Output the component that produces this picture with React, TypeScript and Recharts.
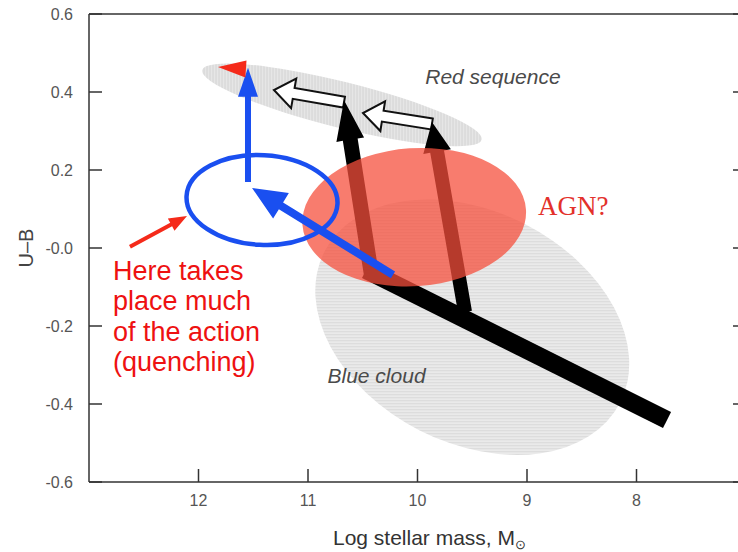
import React from 'react';
import { ComposedChart, XAxis, YAxis, ReferenceArea, ReferenceLine, ReferenceDot, Label } from 'recharts';

// ---------- axes ----------
const xDomain = [7, 13];
const yDomain = [-0.6, 0.6];
const xTicks = [8, 9, 10, 11, 12];
const yTicks = [-0.6, -0.4, -0.2, 0, 0.2, 0.4, 0.6];

// ---------- regions: [centre mass, centre U-B, half-extent mass, half-extent U-B] ----------
const blueCloud = [9.5, -0.203, 1.516, 0.297];
const redSequence = [10.69, 0.367, 1.315, 0.059];
const agnZone = [10.03, 0.079, 1.023, 0.177];
const quenchZone = [11.42, 0.123, 0.69, 0.115];

// ---------- tracks: [from mass, from U-B, to mass, to U-B] ----------
const blackTrack = [10.47, -0.056, 7.721, -0.441];
const blackRise1 = [10.416, -0.077, 10.671, 0.379];
const blackRise2 = [9.566, -0.164, 9.868, 0.323];
const hollowDrift1 = [10.671, 0.374, 11.311, 0.405];
const hollowDrift2 = [9.868, 0.318, 10.498, 0.346];
const blueRise = [11.548, 0.169, 11.548, 0.462];
const blueInflow = [10.224, -0.069, 11.511, 0.154];
const redTip = [11.557, 0.459, 11.822, 0.464];
const redPointer = [12.626, 0.003, 12.105, 0.082];

// ---------- annotations: [mass, U-B] ----------
const redSeqLabelPos = [9.311, 0.42];
const blueCloudLabelPos = [10.374, -0.346];
const agnLabelPos = [8.9, 0.085];
const quenchLabelPos = [12.781, -0.082];
const quenchLines = ['Here takes', 'place much', 'of the action', '(quenching)'];

const SANS = '"Liberation Sans", Arial, Helvetica, sans-serif';
const AXIS = '#333';

type EllStyle = { rot: number; fill: string; opacity?: number; stroke?: string; strokeWidth?: number; hatch?: 'h' | 'v'; line?: string; id?: string };
const ellipseShape = (s: EllStyle) => (p: any) => {
  const w = Math.abs(p.width), h = Math.abs(p.height);
  const x0 = Math.min(p.x, p.x + p.width), y0 = Math.min(p.y, p.y + p.height);
  const cx = x0 + w / 2, cy = y0 + h / 2;
  const pid = s.id ? `pat-${s.id}` : undefined;
  return (
    <g>
      {pid && (
        <defs>
          <pattern id={pid} patternUnits="userSpaceOnUse" width={s.hatch === 'v' ? 3 : 6} height={s.hatch === 'v' ? 6 : 3} patternTransform={`rotate(${-s.rot})`}>
            <rect x={0} y={0} width={6} height={6} fill={s.fill} />
            {s.hatch === 'v' ? <rect x={0} y={0} width={1} height={6} fill={s.line} /> : <rect x={0} y={0} width={6} height={1} fill={s.line} />}
          </pattern>
        </defs>
      )}
      <ellipse
        cx={cx}
        cy={cy}
        rx={w / 2}
        ry={h / 2}
        transform={`rotate(${s.rot} ${cx} ${cy})`}
        fill={s.stroke ? 'none' : pid ? `url(#${pid})` : s.fill}
        fillOpacity={s.opacity ?? 1}
        stroke={s.stroke || 'none'}
        strokeWidth={s.strokeWidth || 0}
      />
    </g>
  );
};

type ArrStyle = { shaft: number; headL: number; headW: number; fill: string; stroke?: string; strokeWidth?: number };
const arrowShape = (s: ArrStyle) => (p: any) => {
  const { x1, y1, x2, y2 } = p;
  const dx = x2 - x1, dy = y2 - y1;
  const len = Math.hypot(dx, dy) || 1;
  const ux = dx / len, uy = dy / len, nx = -uy, ny = ux;
  const hs = s.shaft / 2, hh = s.headW / 2;
  let pts: number[][];
  if (s.headL > 0) {
    const bx = x2 - ux * s.headL, by = y2 - uy * s.headL;
    pts = [
      [x1 + nx * hs, y1 + ny * hs],
      [bx + nx * hs, by + ny * hs],
      [bx + nx * hh, by + ny * hh],
      [x2, y2],
      [bx - nx * hh, by - ny * hh],
      [bx - nx * hs, by - ny * hs],
      [x1 - nx * hs, y1 - ny * hs],
    ];
  } else {
    pts = [
      [x1 + nx * hs, y1 + ny * hs],
      [x2 + nx * hs, y2 + ny * hs],
      [x2 - nx * hs, y2 - ny * hs],
      [x1 - nx * hs, y1 - ny * hs],
    ];
  }
  return (
    <polygon
      points={pts.map((q) => `${q[0]},${q[1]}`).join(' ')}
      fill={s.fill}
      stroke={s.stroke || 'none'}
      strokeWidth={s.strokeWidth || 0}
      strokeLinejoin="miter"
    />
  );
};

const area = (e: number[], shape: any, z: number, key: string) => (
  <ReferenceArea
    key={key}
    x1={e[0] + e[2]}
    x2={e[0] - e[2]}
    y1={e[1] - e[3]}
    y2={e[1] + e[3]}
    ifOverflow="visible"
    shape={shape}
    zIndex={z}
  />
);

const arrow = (a: number[], shape: any, z: number, key: string) => (
  <ReferenceLine
    key={key}
    segment={[{ x: a[0], y: a[1] }, { x: a[2], y: a[3] }]}
    ifOverflow="visible"
    shape={shape}
    zIndex={z}
  />
);

const axisStroke = { stroke: AXIS, strokeWidth: 1.5 };
const X_MARGIN = 13;
const Y_MARGIN = 16;
const TICK_LEN = 13;

const fmtY = (v: number) => (Math.abs(v) < 1e-9 ? '-0.0' : v.toFixed(1));

const BottomTick = (p: any) => {
  const ay = p.y - X_MARGIN;
  return (
    <g>
      <line x1={p.x} x2={p.x} y1={ay} y2={ay - TICK_LEN} stroke={AXIS} strokeWidth={1.5} />
      <text x={p.x} y={p.y} dy="0.71em" textAnchor="middle" fill="#555" fontSize={16} fontFamily={SANS}>
        {p.payload.value}
      </text>
    </g>
  );
};
const LeftTick = (p: any) => {
  const ax = p.x + Y_MARGIN;
  return (
    <g>
      <line x1={ax} x2={ax + TICK_LEN} y1={p.y} y2={p.y} stroke={AXIS} strokeWidth={1.5} />
      <text x={p.x} y={p.y} dy="0.355em" textAnchor="end" fill="#555" fontSize={16} fontFamily={SANS}>
        {fmtY(p.payload.value)}
      </text>
    </g>
  );
};
const TopTick = (p: any) => <line x1={p.x} x2={p.x} y1={p.y} y2={p.y + TICK_LEN} stroke={AXIS} strokeWidth={1.5} />;
const RightTick = (p: any) => <line x1={p.x} x2={p.x - TICK_LEN} y1={p.y} y2={p.y} stroke={AXIS} strokeWidth={1.5} />;

const XLabel = (props: any) => {
  const vb = props.viewBox || {};
  const x = vb.x + vb.width / 2 + 12;
  const y = vb.y + 63;
  return (
    <text x={x} y={y} textAnchor="middle" fontFamily={SANS} fontSize={21} fill="#333">
      Log stellar mass, M
      <tspan fontSize={13} dy={4}>⊙</tspan>
    </text>
  );
};

const YLabel = (props: any) => {
  const vb = props.viewBox || {};
  const x = vb.x - 3;
  const y = vb.y + vb.height / 2;
  return (
    <text x={x} y={y} textAnchor="middle" fontFamily={SANS} fontSize={20} fill="#444" transform={`rotate(-90 ${x} ${y})`} dominantBaseline="central">
      U–B
    </text>
  );
};

export default function App() {
  return (
    <div style={{ position: 'absolute', left: 0, top: 0, width: 738, height: 552, overflow: 'hidden', background: '#fff' }}>
      <ComposedChart width={760} height={552} margin={{ top: 13, right: 13, bottom: 40, left: 29 }}>
        <XAxis
          type="number"
          dataKey="x"
          domain={xDomain}
          allowDataOverflow
          reversed
          ticks={xTicks}
          interval={0}
          height={30}
          tickSize={0}
          tickMargin={X_MARGIN}
          tickLine={false}
          axisLine={axisStroke}
          tick={BottomTick}
        >
          <Label content={XLabel} />
        </XAxis>
        <XAxis
          xAxisId="top"
          type="number"
          domain={xDomain}
          allowDataOverflow
          reversed
          ticks={xTicks}
          interval={0}
          orientation="top"
          height={1}
          tickSize={0}
          tickMargin={0}
          tickLine={false}
          axisLine={axisStroke}
          tick={TopTick}
        />
        <YAxis
          type="number"
          dataKey="y"
          domain={yDomain}
          allowDataOverflow
          ticks={yTicks}
          interval={0}
          width={60}
          tickSize={0}
          tickMargin={Y_MARGIN}
          tickLine={false}
          axisLine={axisStroke}
          tick={LeftTick}
        >
          <Label content={YLabel} />
        </YAxis>
        <YAxis
          yAxisId="right"
          type="number"
          domain={yDomain}
          allowDataOverflow
          ticks={yTicks}
          interval={0}
          orientation="right"
          width={1}
          tickSize={0}
          tickMargin={0}
          tickLine={false}
          axisLine={axisStroke}
          tick={RightTick}
        />

        {area(blueCloud, ellipseShape({ rot: 27, fill: '#eaeaea', hatch: 'h', line: '#d9d9d9', id: 'cloud' }), 101, 'cloud')}
        {area(redSequence, ellipseShape({ rot: 14, fill: '#e6e6e6', hatch: 'v', line: '#d3d3d3', id: 'redseq' }), 102, 'redseq')}
        {arrow(hollowDrift1, arrowShape({ shaft: 11, headL: 20, headW: 30, fill: '#fff', stroke: '#111', strokeWidth: 2 }), 103, 'h1')}
        {arrow(hollowDrift2, arrowShape({ shaft: 11, headL: 20, headW: 30, fill: '#fff', stroke: '#111', strokeWidth: 2 }), 104, 'h2')}
        {arrow(blackTrack, arrowShape({ shaft: 18, headL: 0, headW: 18, fill: '#000' }), 105, 'track')}
        {arrow(blackRise1, arrowShape({ shaft: 15, headL: 40, headW: 28, fill: '#000' }), 106, 'rise1')}
        {arrow(blackRise2, arrowShape({ shaft: 14, headL: 30, headW: 28, fill: '#000' }), 107, 'rise2')}
        {area(agnZone, ellipseShape({ rot: -4, fill: '#f64e3b', opacity: 0.74 }), 108, 'agn')}
        {area(quenchZone, ellipseShape({ rot: 3, fill: 'none', stroke: '#1a4ff0', strokeWidth: 4.5 }), 109, 'quench')}
        {arrow(blueRise, arrowShape({ shaft: 6, headL: 29, headW: 20, fill: '#1a4ff0' }), 110, 'brise')}
        {arrow(blueInflow, arrowShape({ shaft: 8, headL: 34, headW: 30, fill: '#1a4ff0' }), 111, 'binflow')}
        {arrow(redTip, arrowShape({ shaft: 0, headL: 28, headW: 17, fill: '#f52a1a' }), 112, 'rtip')}
        {arrow(redPointer, arrowShape({ shaft: 4, headL: 18, headW: 14, fill: '#f52a1a' }), 113, 'rptr')}

        <ReferenceDot
          x={redSeqLabelPos[0]}
          y={redSeqLabelPos[1]}
          r={0}
          ifOverflow="visible"
          zIndex={114}
          shape={(p: any) => (
            <text x={p.cx} y={p.cy} textAnchor="middle" fontFamily={SANS} fontStyle="italic" fontSize={21} fill="#4a4a4a">
              Red sequence
            </text>
          )}
        />
        <ReferenceDot
          x={blueCloudLabelPos[0]}
          y={blueCloudLabelPos[1]}
          r={0}
          ifOverflow="visible"
          zIndex={115}
          shape={(p: any) => (
            <text x={p.cx} y={p.cy} textAnchor="middle" fontFamily={SANS} fontStyle="italic" fontSize={21} fill="#4a4a4a">
              Blue cloud
            </text>
          )}
        />
        <ReferenceDot
          x={agnLabelPos[0]}
          y={agnLabelPos[1]}
          r={0}
          ifOverflow="visible"
          zIndex={116}
          shape={(p: any) => (
            <text x={p.cx} y={p.cy} textAnchor="start" fontFamily='"Liberation Serif", "DejaVu Serif", serif' fontSize={27} fill="#e3312b">
              AGN?
            </text>
          )}
        />
        <ReferenceDot
          x={quenchLabelPos[0]}
          y={quenchLabelPos[1]}
          r={0}
          ifOverflow="visible"
          zIndex={117}
          shape={(p: any) => (
            <text x={p.cx} y={p.cy} textAnchor="start" fontFamily={SANS} fontSize={27} fill="#ee1111">
              {quenchLines.map((t, i) => (
                <tspan key={t} x={p.cx} dy={i === 0 ? 0 : 30.5}>
                  {t}
                </tspan>
              ))}
            </text>
          )}
        />
      </ComposedChart>
    </div>
  );
}
